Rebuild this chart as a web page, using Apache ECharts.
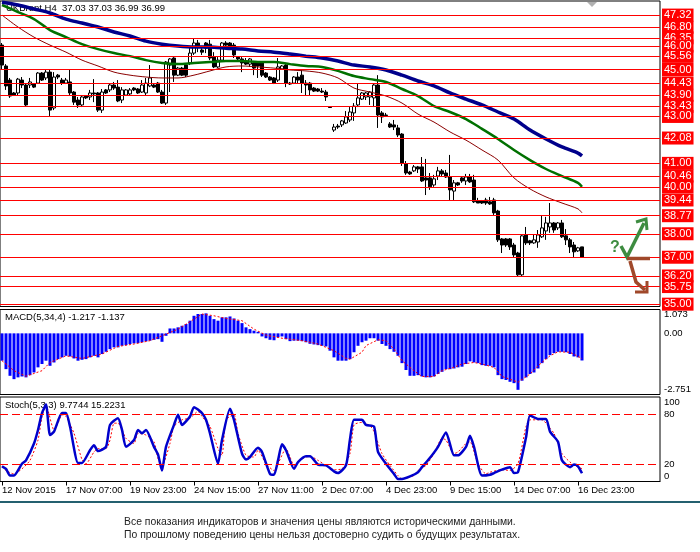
<!DOCTYPE html>
<html>
<head>
<meta charset="utf-8">
<script src="https://cdn.jsdelivr.net/npm/echarts@6/dist/echarts.min.js"></script>
<style>
  html, body { margin: 0; padding: 0; background: #fff; }
  #chart { width: 700px; height: 552px; }
</style>
</head>
<body>
<div id="chart"></div>
<script>
// ---- data ----
const tickLabels = ['12 Nov 2015', '17 Nov 07:00', '19 Nov 23:00', '24 Nov 15:00', '27 Nov 11:00',
  '2 Dec 07:00', '4 Dec 23:00', '9 Dec 15:00', '14 Dec 07:00', '16 Dec 23:00'];

// [open, close, low, high]
const candles = [
  [46.04,45.19,44.98,46.13],[45.15,44.30,44.13,45.23],[44.55,43.87,43.79,44.64],[44.00,43.91,43.87,44.04],
  [44.00,44.59,43.91,44.64],[44.55,44.34,44.21,44.68],[44.34,43.49,43.44,44.42],[44.34,44.47,44.21,44.64],
  [44.38,44.25,44.21,44.42],[44.42,44.85,44.38,44.89],[44.85,44.55,44.51,44.89],[44.64,44.89,44.55,44.98],
  [44.89,43.27,43.02,44.98],[43.36,44.68,43.27,44.89],[44.76,44.68,44.59,44.81],[44.55,44.42,44.34,44.64],
  [44.42,44.55,44.38,44.64],[44.47,44.00,43.91,44.98],[44.04,43.61,43.49,44.08],[43.70,43.49,43.36,43.83],
  [43.49,43.83,43.40,43.91],[43.87,43.79,43.74,43.91],[43.83,44.00,43.70,44.13],[44.00,43.96,43.61,44.59],
  [44.00,43.27,43.19,44.04],[43.27,44.04,43.15,44.17],[44.13,44.00,43.96,44.17],[44.13,44.34,44.04,44.42],
  [44.34,44.21,44.13,44.47],[44.25,43.66,43.61,44.55],[43.70,44.13,43.57,44.25],[43.91,44.13,43.87,44.17],
  [43.96,44.13,43.91,44.21],[44.21,44.13,44.08,44.25],[44.17,44.00,43.96,44.21],[44.04,44.34,44.00,44.55],
  [44.00,44.42,43.91,44.64],[44.30,44.64,44.25,45.19],[44.34,44.25,44.21,44.38],[44.42,44.04,44.00,44.47],
  [44.04,43.57,43.53,44.13],[43.57,45.32,43.49,45.36],[45.19,45.45,44.04,45.49],[45.49,44.76,44.47,45.53],
  [44.76,45.06,44.72,45.11],[45.06,44.76,44.72,45.11],[45.19,44.76,44.68,45.23],[45.28,45.70,45.19,45.91],
  [45.70,46.13,45.62,46.30],[46.13,46.00,45.74,46.26],[45.83,45.74,45.62,45.91],[46.13,45.91,45.70,46.17],
  [46.08,45.49,45.40,46.26],[45.53,45.11,45.06,45.74],[45.11,45.40,45.06,45.53],[45.40,46.13,45.32,46.17],
  [46.13,46.04,46.00,46.21],[46.13,45.91,45.83,46.17],[46.04,45.62,45.49,46.13],[45.53,45.45,45.40,45.57],
  [45.45,45.28,44.89,45.53],[45.36,45.23,45.19,45.49],[45.23,45.45,45.11,45.49],[45.28,45.06,44.76,45.32],
  [45.28,45.15,44.64,45.32],[45.28,44.76,44.68,45.32],[44.85,44.68,44.64,44.89],[44.68,44.55,44.51,44.72],
  [44.64,44.42,44.38,44.68],[44.55,45.11,44.47,45.49],[45.02,45.15,44.98,45.19],[45.19,44.42,44.25,45.28],
  [44.42,44.38,44.34,44.47],[44.42,44.68,44.38,44.72],[44.68,44.55,44.42,44.89],[44.76,44.42,44.00,44.98],
  [44.42,44.34,43.91,44.55],[44.42,44.13,43.91,44.47],[44.21,44.08,44.04,44.25],[44.17,44.08,44.04,44.21],
  [44.08,44.04,44.00,44.21],[44.04,43.83,43.66,44.13],[43.40,43.38,43.36,43.42],[42.42,42.55,42.34,42.68],
  [42.59,42.55,42.47,42.68],[42.64,42.81,42.55,42.85],[42.72,42.98,42.68,43.23],[42.85,43.19,42.76,43.40],
  [43.15,43.44,42.81,43.57],[43.49,43.79,43.40,44.42],[43.74,44.00,43.70,44.04],[43.83,44.00,43.70,44.04],
  [43.83,44.04,43.49,44.08],[43.79,44.34,43.40,44.42],[44.34,43.06,42.51,44.76],[43.15,42.98,42.72,43.23],
  [43.06,43.04,42.98,43.15],[42.68,42.55,42.51,42.76],[42.64,42.55,42.42,42.85],[42.51,42.21,42.12,42.64],
  [42.25,41.02,40.89,42.29],[40.97,40.59,40.51,41.10],[40.63,40.55,40.51,40.68],[40.68,40.85,40.63,40.93],
  [40.85,40.76,40.59,40.89],[40.85,40.25,40.21,41.27],[40.38,40.29,39.65,41.19],[40.38,40.00,39.87,40.59],
  [40.08,40.34,40.00,40.51],[40.46,40.68,40.29,40.85],[40.68,40.55,40.46,40.76],[40.59,40.42,40.38,40.72],
  [40.42,39.87,39.44,41.36],[39.82,40.17,39.44,40.29],[40.17,40.08,40.04,40.21],[40.38,40.25,40.17,40.42],
  [40.25,40.42,40.08,40.55],[40.42,40.21,40.17,40.55],[40.29,39.36,39.31,40.51],[39.40,39.31,39.31,39.53],
  [39.40,39.31,39.27,39.44],[39.44,39.31,39.23,39.53],[39.36,39.27,39.23,39.57],[39.44,38.89,38.80,39.53],
  [38.97,37.74,37.65,39.02],[37.78,37.52,37.18,37.82],[37.78,37.52,37.44,37.82],[37.78,37.44,37.31,37.82],
  [37.52,37.10,37.01,37.61],[37.18,36.25,36.20,37.23],[36.25,37.91,36.20,37.95],[37.95,37.61,37.52,38.29],
  [37.70,37.61,37.52,37.74],[37.61,37.74,37.57,37.95],[37.65,37.95,37.40,38.16],[37.87,38.25,37.82,38.80],
  [38.12,38.46,37.74,38.72],[38.29,38.46,38.04,39.31],[38.46,38.16,38.04,38.50],[38.25,38.46,38.16,38.50],
  [38.46,37.87,37.82,38.59],[37.91,37.74,37.52,38.20],[37.74,37.44,37.18,37.82],[37.52,37.23,37.01,37.65],
  [37.27,37.40,37.23,37.44],[37.44,36.99,36.99,37.44]
];

// moving averages, [bar, value]
const maBlue = [[0,47.87],[4,47.75],[8,47.58],[12,47.41],[16,47.15],[20,46.98],[24,46.81],[28,46.60],[32,46.43],
  [36,46.21],[40,46.08],[44,46.00],[48,45.96],[52,45.96],[56,45.91],[60,45.87],[64,45.79],[68,45.74],[72,45.66],
  [76,45.57],[80,45.49],[84,45.36],[88,45.19],[92,45.11],[96,44.98],[100,44.76],[104,44.51],[108,44.30],
  [112,44.00],[116,43.74],[120,43.49],[124,43.19],[128,42.89],[132,42.42],[136,42.04],[140,41.70],[144,41.44],[145,41.32]];
const maGreen = [[0,47.75],[4,47.45],[8,47.15],[12,46.68],[16,46.38],[20,46.08],[24,45.87],[28,45.70],[32,45.57],
  [36,45.40],[40,45.28],[44,45.23],[48,45.28],[52,45.32],[56,45.36],[60,45.36],[64,45.32],[68,45.32],[72,45.23],
  [76,45.15],[80,45.11],[84,44.94],[88,44.72],[92,44.59],[96,44.47],[100,44.17],[104,43.87],[108,43.44],
  [112,43.19],[116,42.89],[120,42.47],[124,42.04],[128,41.57],[132,41.14],[136,40.76],[140,40.46],[144,40.17],[145,40.00]];
const maRed = [[0,47.32],[4,46.81],[8,46.38],[12,46.04],[16,45.74],[20,45.40],[24,45.15],[28,44.89],[32,44.76],
  [36,44.68],[40,44.64],[44,44.64],[48,44.76],[52,44.94],[56,45.11],[60,45.15],[64,45.11],[68,45.06],[72,44.98],
  [76,44.94],[80,44.85],[84,44.64],[88,44.21],[92,44.04],[96,43.87],[100,43.57],[104,43.10],[108,42.76],
  [112,42.34],[116,41.99],[120,41.57],[124,41.14],[128,40.38],[132,39.91],[136,39.57],[140,39.31],[144,39.06],[145,38.89]];

const priceLevels = [47.32, 46.80, 46.35, 46.00, 45.56, 45.00, 44.43, 43.90, 43.43, 43.00, 42.08,
  41.00, 40.46, 40.00, 39.44, 38.77, 38.00, 37.00, 36.20, 35.75, 35.00];

const macdHist = [
  -1.23,-1.61,-1.91,-2.06,-1.98,-1.94,-1.98,-1.88,-1.76,-1.53,-1.38,-1.23,-1.46,-1.31,-1.16,-1.08,
  -1.01,-1.04,-1.13,-1.23,-1.19,-1.16,-1.08,-1.01,-1.08,-0.93,-0.83,-0.71,-0.63,-0.63,-0.56,-0.53,
  -0.48,-0.45,-0.44,-0.40,-0.36,-0.33,-0.29,-0.26,-0.38,-0.11,0.22,0.22,0.27,0.34,0.42,0.57,
  0.79,0.87,0.87,0.90,0.79,0.64,0.57,0.72,0.72,0.76,0.67,0.57,0.46,0.27,0.19,0.12,
  0.07,-0.14,-0.22,-0.29,-0.31,-0.18,-0.14,-0.26,-0.35,-0.33,-0.33,-0.35,-0.40,-0.47,-0.50,-0.53,
  -0.56,-0.59,-0.78,-1.08,-1.23,-1.23,-1.23,-1.16,-0.85,-0.56,-0.40,-0.33,-0.22,-0.22,-0.33,-0.48,
  -0.56,-0.71,-0.83,-1.01,-1.34,-1.65,-1.91,-1.91,-1.88,-1.94,-1.98,-1.98,-1.94,-1.83,-1.73,-1.61,
  -1.61,-1.58,-1.53,-1.50,-1.38,-1.26,-1.31,-1.34,-1.43,-1.46,-1.46,-1.53,-1.88,-2.06,-2.10,-2.18,
  -2.24,-2.54,-2.13,-1.98,-1.83,-1.76,-1.58,-1.34,-1.16,-0.98,-0.89,-0.83,-0.83,-0.85,-0.93,-1.04,
  -1.08,-1.22
];
const macdSignal = [[0,-1.23],[3,-1.68],[6,-1.93],[10,-1.68],[12,-1.31],[16,-1.01],[20,-1.13],[25,-0.93],
  [29,-0.59],[33,-0.48],[37,-0.33],[40,-0.11],[44,0.19],[48,0.64],[50,0.87],[53,0.79],[56,0.67],[60,0.57],
  [63,0.19],[66,-0.08],[70,-0.22],[75,-0.33],[79,-0.48],[83,-0.78],[86,-1.13],[87,-1.16],[90,-0.85],
  [91,-0.55],[94,-0.29],[96,-0.33],[98,-0.71],[100,-1.23],[103,-1.68],[105,-1.94],[108,-1.94],[110,-1.68],
  [113,-1.53],[115,-1.38],[118,-1.31],[120,-1.38],[123,-1.53],[125,-1.94],[128,-2.13],[129,-2.20],
  [132,-1.83],[134,-1.46],[137,-1.01],[139,-0.83],[142,-0.85],[145,-1.137]];

const stochMain = [[0,18],[1,15],[2,7],[3,7],[5,21],[6,25],[8,45],[9,61],[10,81],[11,91],[12,55],[13,59],
  [15,81],[16,81],[17,65],[19,22],[20,22],[22,37],[23,43],[24,36],[26,41],[27,67],[29,75],[30,61],[31,41],
  [33,49],[34,61],[35,57],[36,61],[38,41],[39,32],[40,13],[41,41],[43,67],[44,79],[45,67],[47,77],[48,88],
  [50,81],[51,73],[52,57],[54,21],[55,49],[57,86],[58,73],[60,33],[61,26],[62,29],[64,40],[65,35],[67,9],
  [68,8],[69,25],[70,44],[71,37],[73,15],[74,23],[76,30],[77,30],[79,20],[81,19],[83,12],[84,10],[86,19],
  [87,50],[88,73],[90,73],[91,67],[93,65],[94,35],[96,21],[98,9],[99,3],[100,3],[102,6],[104,11],[105,17],
  [107,28],[109,41],[111,58],[113,31],[114,31],[116,41],[117,54],[118,41],[120,7],[122,8],[123,10],[125,14],
  [127,17],[128,10],[129,11],[131,52],[132,78],[134,74],[136,74],[137,59],[139,47],[140,25],[142,17],
  [143,20],[144,18],[145,9.77]];
const stochSignal = [[0,18],[1,13],[3,9],[5,15],[7,25],[9,49],[10,77],[11,90],[13,61],[14,69],[15,79],
  [16,77],[18,57],[20,26],[21,21],[23,35],[24,39],[26,39],[27,49],[28,69],[29,69],[31,51],[33,45],[34,57],
  [36,55],[38,47],[39,27],[40,19],[42,45],[43,65],[45,73],[47,75],[49,83],[50,77],[52,65],[54,39],[55,31],
  [56,73],[58,79],[59,57],[61,31],[63,29],[64,37],[66,21],[68,13],[69,21],[71,39],[72,29],[73,19],[75,27],
  [77,30],[79,25],[81,19],[83,14],[85,15],[87,33],[88,67],[90,70],[92,66],[93,59],[95,33],[97,19],[99,7],
  [100,3],[103,7],[104,13],[106,19],[108,33],[110,51],[111,49],[113,33],[114,35],[116,45],[117,47],[119,21],
  [121,9],[122,11],[125,14],[127,13],[129,21],[131,65],[132,73],[135,73],[137,63],[138,57],[140,33],
  [142,23],[144,17],[145,15.22]];

const barCount = 165;
const categories = Array.from({ length: barCount }, (_, i) =>
  (i % 16 === 0 && tickLabels[i / 16]) ? tickLabels[i / 16] : '');
const isTick = (i) => i % 16 === 0 && i <= 144;

const FONT = 'Liberation Sans, Arial, sans-serif';
const SMALL = '9.5px ' + FONT;
const chart = echarts.init(document.getElementById('chart'), null, { renderer: 'canvas' });

const hiddenX = (gridIndex) => ({
  type: 'category', gridIndex, data: categories, boundaryGap: true, show: false
});

const option = {
  animation: false,
  backgroundColor: '#fff',
  textStyle: { fontFamily: FONT },
  grid: [
    { left: 0, top: 1, width: 660, height: 305.5, show: true, borderColor: '#000', borderWidth: 1, outerBoundsMode: 'none' },
    { left: 0, top: 309.5, width: 660, height: 85, show: true, borderColor: '#000', borderWidth: 1, outerBoundsMode: 'none' },
    { left: 0, top: 397, width: 660, height: 84.5, show: true, borderColor: '#000', borderWidth: 1, outerBoundsMode: 'none' }
  ],
  xAxis: [
    hiddenX(0),
    hiddenX(1),
    {
      type: 'category', gridIndex: 2, data: categories, boundaryGap: true,
      axisLine: { show: true, lineStyle: { color: '#000' } },
      axisTick: { show: true, alignWithLabel: true, interval: isTick, length: 4, lineStyle: { color: '#000' } },
      axisLabel: {
        interval: isTick, align: 'left', margin: 4, fontSize: 9.5, color: '#000', fontFamily: FONT,
        hideOverlap: false, showMinLabel: true, showMaxLabel: true
      },
      splitLine: { show: false }
    }
  ],
  yAxis: [
    { type: 'value', gridIndex: 0, min: 34.90, max: 47.92, show: false, splitLine: { show: false } },
    {
      type: 'value', gridIndex: 1, min: -2.751, max: 1.073, position: 'right',
      axisLine: { show: false }, axisTick: { show: false }, splitLine: { show: false },
      axisLabel: {
        margin: 4, fontSize: 9.5, color: '#000', fontFamily: FONT,
        showMinLabel: true, showMaxLabel: true,
        verticalAlignMinLabel: 'bottom', verticalAlignMaxLabel: 'top',
        formatter: (v) => v === 1.073 ? '1.073' : (v === -2.751 ? '-2.751' : (v === 0 ? '0.00' : ''))
      }
    },
    {
      type: 'value', gridIndex: 2, min: 0, max: 100, interval: 20, position: 'right',
      axisLine: { show: false }, axisTick: { show: false }, splitLine: { show: false },
      axisLabel: {
        margin: 4, fontSize: 9.5, color: '#000', fontFamily: FONT,
        showMinLabel: true, showMaxLabel: true,
        verticalAlignMinLabel: 'bottom', verticalAlignMaxLabel: 'top',
        formatter: (v) => (v === 40 || v === 60) ? '' : String(v)
      }
    }
  ],
  series: [
    {
      type: 'candlestick', xAxisIndex: 0, yAxisIndex: 0, data: candles, barWidth: 3, z: 3,
      itemStyle: { color: '#fff', color0: '#000', borderColor: '#000', borderColor0: '#000', borderWidth: 1 },
      markLine: {
        silent: true, symbol: 'none', animation: false,
        lineStyle: { color: '#ff0000', width: 1, type: 'solid' },
        label: {
          show: true, position: 'end', distance: 2,
          formatter: (p) => p.value.toFixed(2),
          color: '#fff', backgroundColor: '#ff0000', fontSize: 11, fontFamily: FONT,
          padding: [1, 2, 0, 2], lineHeight: 12
        },
        data: priceLevels.map((v) => ({ yAxis: v }))
      }
    },
    {
      type: 'line', xAxisIndex: 0, yAxisIndex: 0, data: maRed, showSymbol: false, smooth: 0.3, z: 4,
      lineStyle: { color: '#8b0000', width: 1 }
    },
    {
      type: 'line', xAxisIndex: 0, yAxisIndex: 0, data: maGreen, showSymbol: false, smooth: 0.3, z: 4,
      lineStyle: { color: '#007000', width: 2.5 }
    },
    {
      type: 'line', xAxisIndex: 0, yAxisIndex: 0, data: maBlue, showSymbol: false, smooth: 0.3, z: 4,
      lineStyle: { color: '#00008b', width: 3.5 }
    },
    {
      type: 'bar', xAxisIndex: 1, yAxisIndex: 1, data: macdHist, barWidth: 3,
      itemStyle: { color: '#0000ff' }
    },
    {
      type: 'line', xAxisIndex: 1, yAxisIndex: 1, data: macdSignal, showSymbol: false, z: 4,
      lineStyle: { color: '#ff0000', width: 1, type: [2, 2] }
    },
    {
      type: 'line', xAxisIndex: 2, yAxisIndex: 2, data: stochSignal, showSymbol: false, smooth: 0.2, z: 3,
      lineStyle: { color: '#ff0000', width: 1, type: [2, 2] },
      markLine: {
        silent: true, symbol: 'none', label: { show: false },
        lineStyle: { color: '#ff0000', width: 1.2, type: [8, 4] },
        data: [{ yAxis: 80 }, { yAxis: 20 }]
      }
    },
    {
      type: 'line', xAxisIndex: 2, yAxisIndex: 2, data: stochMain, showSymbol: false, smooth: 0.2, z: 4,
      lineStyle: { color: '#0000cc', width: 2.5 }
    }
  ],
  graphic: [
    { type: 'text', left: 6, top: 3, z: 0, style: { text: 'UKBrent,H4  37.03 37.03 36.99 36.99', font: SMALL, fill: '#000' } },
    { type: 'text', left: 5, top: 312, z: 0, style: { text: 'MACD(5,34,4) -1.217 -1.137', font: SMALL, fill: '#000' } },
    { type: 'text', left: 5, top: 400, z: 0, style: { text: 'Stoch(5,3,3) 9.7744 15.2231', font: SMALL, fill: '#000' } },
    { type: 'polygon', z: 10, shape: { points: [[587, 2], [597, 2], [592, 7]] }, style: { fill: '#b0b0b0' } },
    // forecast arrows
    { type: 'text', z: 10, left: 610, top: 240, style: { text: '?', font: 'bold 16px ' + FONT, fill: '#3d8c40' } },
    { type: 'polyline', z: 10, shape: { points: [[621, 246], [627, 257], [644, 223]] }, style: { stroke: '#3d8c40', lineWidth: 3.5, fill: null } },
    { type: 'polyline', z: 10, shape: { points: [[636, 222], [646, 219], [647, 230]] }, style: { stroke: '#3d8c40', lineWidth: 3, fill: null } },
    { type: 'polyline', z: 10, shape: { points: [[627, 258.5], [650, 258.5]] }, style: { stroke: '#a0482a', lineWidth: 3.5, fill: null } },
    { type: 'polyline', z: 10, shape: { points: [[630, 261], [636, 282], [645, 290]] }, style: { stroke: '#a0482a', lineWidth: 3.5, fill: null } },
    { type: 'polyline', z: 10, shape: { points: [[635, 292], [647, 292], [647, 281]] }, style: { stroke: '#a0482a', lineWidth: 3, fill: null } },
    // footer
    { type: 'rect', z: 0, shape: { x: 0, y: 501, width: 700, height: 2 }, style: { fill: '#24606f' } },
    { type: 'text', left: 124, top: 517, style: { text: 'Все показания индикаторов и значения цены являются историческими данными.', font: '10.4px ' + FONT, fill: '#222' } },
    { type: 'text', left: 124, top: 530, style: { text: 'По прошлому поведению цены нельзя достоверно судить о будущих результатах.', font: '10.4px ' + FONT, fill: '#222' } }
  ]
};

chart.setOption(option);
</script>
</body>
</html>
